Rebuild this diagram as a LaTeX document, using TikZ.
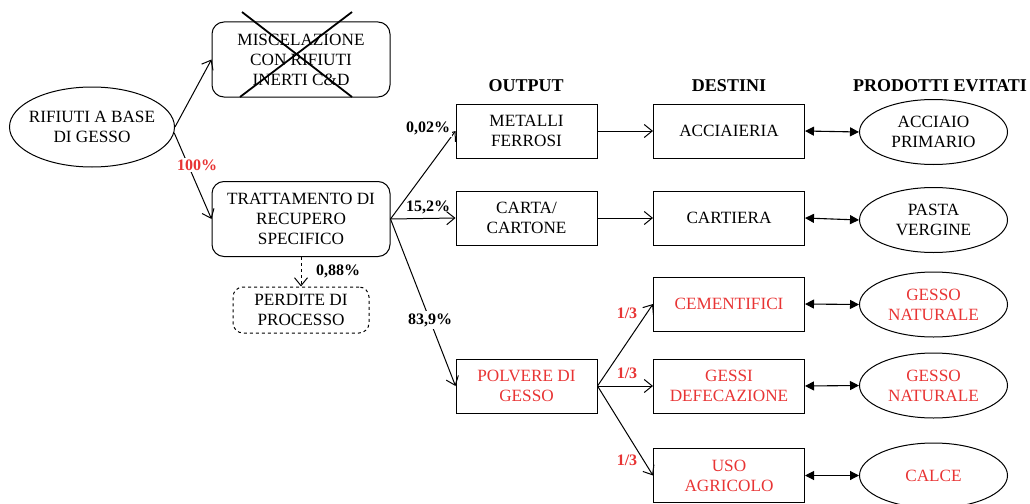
\documentclass[tikz,border=0pt]{standalone}
\usepackage{fontspec}
\setmainfont{Liberation Serif}
\usetikzlibrary{arrows.meta,shapes.geometric}
\definecolor{rd}{RGB}{232,52,52}
\begin{document}
\begin{tikzpicture}[x=1pt,y=-1pt,
  txt/.style={font=\fontsize{17.2}{20}\selectfont,align=center},
  rbox/.style={txt,draw,line width=1pt,rounded corners=12pt,minimum width=178pt,minimum height=75pt,inner sep=0pt},
  sbox/.style={txt,draw,line width=1pt,minimum width=141pt,minimum height=54pt,inner sep=0pt},
  dbox/.style={txt,draw,line width=1pt,minimum width=151pt,minimum height=54pt,inner sep=0pt},
  ell/.style={txt,draw,ellipse,line width=1pt,minimum width=148pt,minimum height=65pt,inner sep=0pt},
  hdr/.style={font=\fontsize{18}{20}\selectfont\bfseries},
  lbl/.style={font=\fontsize{16}{18}\selectfont\bfseries,fill=white,inner sep=2pt},
  arr/.style={line width=1pt,-{Straight Barb[length=8pt,width=13pt,line width=1pt]}},
  darr/.style={line width=1.1pt,{Triangle[length=9pt,width=9pt]}-{Triangle[length=9pt,width=9pt]}}
]
\useasboundingbox (0,0) rectangle (1030,503);
% left part
\node[txt,draw,ellipse,line width=1pt,minimum width=165pt,minimum height=80pt,inner xsep=-8pt,inner ysep=0pt] (rif) at (92,127) {RIFIUTI A BASE\\DI GESSO};
\node[rbox] (misc) at (301,59.5) {MISCELAZIONE\\CON RIFIUTI\\INERTI C\&D};
\coordinate (x1) at (242,12); \coordinate (x2) at (352,97);
\coordinate (x3) at (352,12); \coordinate (x4) at (240,97);
\draw[line width=1.8pt] (x1) -- (x2);
\draw[line width=1.8pt] (x3) -- (x4);
\node[rbox] (trat) at (301,219) {TRATTAMENTO DI\\RECUPERO\\SPECIFICO};
\node[txt,draw,dashed,line width=1pt,rounded corners=10pt,minimum width=136pt,minimum height=46pt,inner sep=0pt] (perd) at (301,310) {PERDITE DI\\PROCESSO};
\draw[arr] (rif.east) -- (misc.west);
\draw[arr] (rif.-4) -- (trat.west);
\node[lbl,text=rd] (p100) at (197,165) {100\%};
\draw[arr,dashed] (trat.south) -- (perd.north);
\node[lbl] (p088) at (338,271) {0,88\%};
% headers
\node[hdr] (hout) at (526,86) {OUTPUT};
\node[hdr] (hdes) at (729,86) {DESTINI};
\node[hdr] (hpro) at (940,86) {PRODOTTI EVITATI};
% output
\node[sbox] (met) at (526.5,131) {METALLI\\FERROSI};
\node[sbox] (car) at (526.5,218) {CARTA/\\CARTONE};
\node[sbox,text=rd] (pol) at (526.5,386) {POLVERE DI\\GESSO};
\draw[arr] (trat.east) -- (met.west);
\draw[arr] (trat.east) -- (car.west);
\draw[arr] (trat.east) -- (pol.west);
\node[lbl] (p002) at (428,128) {0,02\%};
\node[lbl,fill=none] (p152) at (428,207) {15,2\%};
\node[lbl] (p839) at (430,320) {83,9\%};
% destini
\node[dbox] (acc) at (729,131) {ACCIAIERIA};
\node[dbox] (cart) at (729,218) {CARTIERA};
\node[dbox,text=rd] (cem) at (729,304) {CEMENTIFICI};
\node[dbox,text=rd] (gde) at (729,386) {GESSI\\DEFECAZIONE};
\node[dbox,text=rd] (uso) at (729,475.5) {USO\\AGRICOLO};
\draw[arr] (met.east) -- (acc.west);
\draw[arr] (car.east) -- (cart.west);
\draw[arr] (pol.east) -- (cem.west);
\draw[arr] (pol.east) -- (gde.west);
\draw[arr] (pol.east) -- (uso.west);
\node[lbl,text=rd,fill=none] (t1) at (627,313) {1/3};
\node[lbl,text=rd,fill=none] (t2) at (627,373) {1/3};
\node[lbl,text=rd,fill=none] (t3) at (627,460) {1/3};
% prodotti evitati
\node[ell] (accp) at (933.5,132) {ACCIAIO\\PRIMARIO};
\node[ell] (pasta) at (933.5,220) {PASTA\\VERGINE};
\node[ell,text=rd] (gn1) at (933.5,304.5) {GESSO\\NATURALE};
\node[ell,text=rd] (gn2) at (933.5,385.5) {GESSO\\NATURALE};
\node[ell,text=rd] (calce) at (933.5,475.5) {CALCE};
\draw[darr] (acc.east) -- (accp.west);
\draw[darr] (cart.east) -- (pasta.west);
\draw[darr] (cem.east) -- (gn1.west);
\draw[darr] (gde.east) -- (gn2.west);
\draw[darr] (uso.east) -- (calce.west);
\end{tikzpicture}
\end{document}
